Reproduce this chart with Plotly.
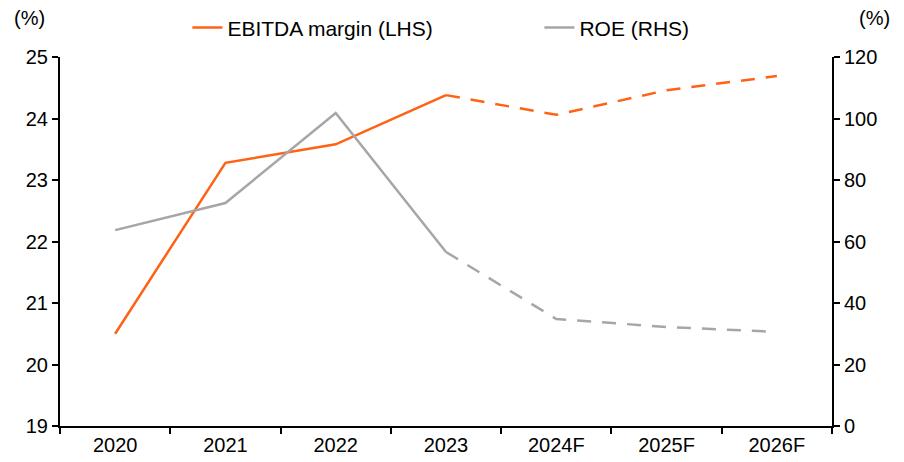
import plotly.graph_objects as go

years = ["2020", "2021", "2022", "2023", "2024F", "2025F", "2026F"]
ebitda_margin = [20.5, 23.28, 23.58, 24.38, 24.06, 24.46, 24.69]
roe = [63.7, 72.5, 101.8, 56.6, 34.8, 32.2, 30.6]
n_actual = 4  # 2020-2023 actual, rest forecast

orange = "#FF6213"
grey = "#A6A6A6"
font = dict(family="Liberation Sans, Arial, sans-serif", size=20, color="#000000")

fig = go.Figure()

# actuals (solid)
fig.add_trace(go.Scatter(x=years[:n_actual], y=ebitda_margin[:n_actual], mode="lines",
                         name="EBITDA margin (LHS)", line=dict(color=orange, width=2.5)))
fig.add_trace(go.Scatter(x=years[:n_actual], y=roe[:n_actual], mode="lines", yaxis="y2",
                         name="ROE (RHS)", line=dict(color=grey, width=2.5)))
# forecasts (dashed)
fig.add_trace(go.Scatter(x=years[n_actual - 1:], y=ebitda_margin[n_actual - 1:], mode="lines",
                         showlegend=False, line=dict(color=orange, width=2.5, dash="14px,11px")))
fig.add_trace(go.Scatter(x=years[n_actual - 1:], y=roe[n_actual - 1:], mode="lines", yaxis="y2",
                         showlegend=False, line=dict(color=grey, width=2.5, dash="14px,11px")))

axis_style = dict(showline=True, linecolor="black", linewidth=2,
                  ticks="outside", ticklen=6, tickwidth=2, tickcolor="black",
                  showgrid=False, zeroline=False, tickfont=font)

# page body has an 8px margin, so the margins are shifted to line up with the reference
fig.update_layout(
    width=904, height=462,
    margin=dict(l=52, r=80, t=49, b=44, autoexpand=False),
    paper_bgcolor="white", plot_bgcolor="white",
    font=font,
    showlegend=True,
    legend=dict(orientation="h", x=0.165, xanchor="left", y=1.079, yanchor="middle",
                font=dict(font, size=21), entrywidth=307, traceorder="normal"),
    xaxis=dict(type="category", categoryorder="array", categoryarray=years,
               range=[-0.5, len(years) - 0.5], tickson="boundaries", **axis_style),
    yaxis=dict(range=[19, 25], dtick=1, **axis_style),
    yaxis2=dict(range=[0, 120], dtick=20, overlaying="y", side="right", **axis_style),
    annotations=[
        dict(text="(%)", xref="paper", yref="paper", x=-0.062, y=1.106, xanchor="left",
             yanchor="middle", showarrow=False, font=font),
        dict(text="(%)", xref="paper", yref="paper", x=1.078, y=1.106, xanchor="right",
             yanchor="middle", showarrow=False, font=font),
    ],
)

fig.write_html("out.html")
